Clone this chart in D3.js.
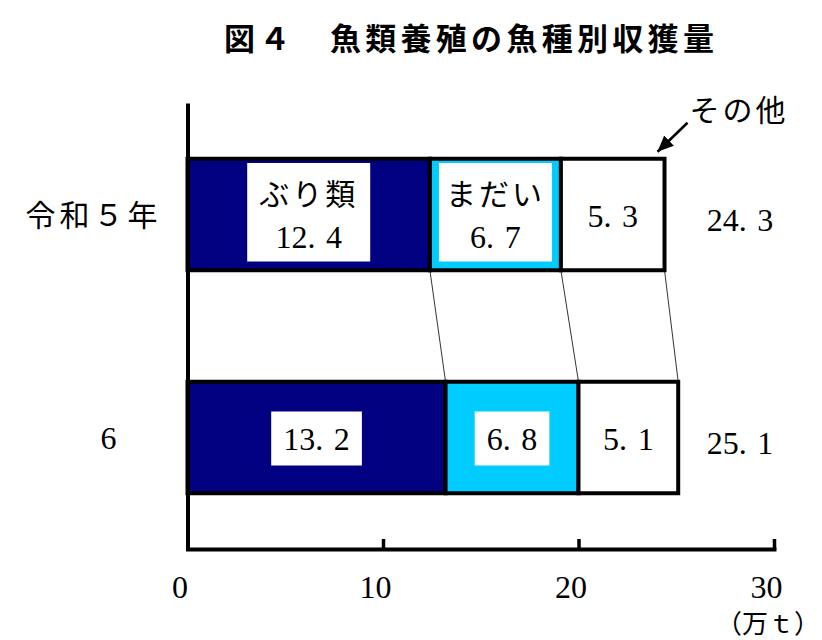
<!DOCTYPE html>
<html>
<head>
<meta charset="utf-8">
<script src="https://cdn.jsdelivr.net/npm/d3@7"></script>
<style>
  body { margin: 0; background: #fff; }
  svg { display: block; }
</style>
</head>
<body>
<div id="chart"></div>
<script>
var title = "図４　魚類養殖の魚種別収獲量";
var categories = ["令和５年", "6"];
var species = ["ぶり類", "まだい", "その他"];
var buri = [12.4, 13.2];
var madai = [6.7, 6.8];
var other = [5.3, 5.1];
var totals = [24.3, 25.1];
var xTicks = [0, 10, 20, 30];
var unitLabel = "（万ｔ）";
var colors = ["#000080", "#00ccff", "#ffffff"];

var serif = "'Liberation Serif', 'Noto Sans CJK JP', serif";
var jp = "'Noto Sans CJK JP', sans-serif";

// "12.4" is printed with a gap after the point in the original
var fmt = function(v){ return v.toFixed(1).replace(".", ".\u2004"); };

var rows = categories.map(function(c, i){
  return {cat: c, "ぶり類": buri[i], "まだい": madai[i], "その他": other[i]};
});
var stack = d3.stack().keys(species)(rows);

var svg = d3.select("#chart").append("svg")
  .attr("width", 822)
  .attr("height", 640);

var x = d3.scaleLinear().domain([0, 30]).range([187.5, 774]);
var y = d3.scaleBand().domain(categories).range([103, 549])
  .paddingInner(0.5).paddingOuter(0.25);
var bw = y.bandwidth();

// title
svg.append("text")
  .attr("x", 224).attr("y", 50)
  .attr("font-family", jp).attr("font-weight", "bold")
  .attr("font-size", 31).attr("letter-spacing", 4.3)
  .text(title);

// bars
var layers = svg.selectAll("g.layer").data(stack).enter().append("g")
  .attr("class", "layer")
  .attr("fill", function(d, i){ return colors[i]; });

layers.selectAll("rect").data(function(d){ return d; }).enter().append("rect")
  .attr("x", function(d){ return x(d[0]); })
  .attr("y", function(d){ return y(d.data.cat); })
  .attr("width", function(d){ return x(d[1]) - x(d[0]); })
  .attr("height", bw)
  .attr("stroke", "#000")
  .attr("stroke-width", 4);

// thin lines joining the two bars
species.forEach(function(s, k){
  var a = stack[k][0], b = stack[k][1];
  svg.append("line")
    .attr("x1", x(a[1])).attr("y1", y(a.data.cat) + bw)
    .attr("x2", x(b[1])).attr("y2", y(b.data.cat))
    .attr("stroke", "#000").attr("stroke-width", 0.8);
});

// labels in segments
stack.forEach(function(layer, k){
  layer.forEach(function(d, i){
    var cx = (x(d[0]) + x(d[1])) / 2;
    var cy = y(d.data.cat) + bw / 2;
    var g = svg.append("g").attr("transform", "translate(" + cx + "," + cy + ")");
    var box = g.append("rect").attr("fill", "#fff");
    var showName = (i == 0 && k < 2);
    if (showName) {
      g.append("text").attr("y", -9.5)
        .attr("text-anchor", "middle")
        .attr("font-family", jp).attr("font-size", 30)
        .attr("letter-spacing", 3)
        .text(layer.key);
      g.append("text").attr("y", 33)
        .attr("text-anchor", "middle")
        .attr("font-family", serif).attr("font-size", 32)
        .text(fmt(d[1] - d[0]));
    } else {
      g.append("text").attr("y", 12)
        .attr("text-anchor", "middle")
        .attr("font-family", serif).attr("font-size", 32)
        .text(fmt(d[1] - d[0]));
    }
    var bb = g.node().getBBox();
    var padX = 12, padY = showName ? 7 : 9;
    var w = Math.min(bb.width + padX * 2, x(d[1]) - x(d[0]) - 18);
    box.attr("x", -w / 2).attr("width", w)
      .attr("y", bb.y - padY).attr("height", bb.height + padY * 2);
  });
});

// totals
svg.selectAll("text.total").data(rows).enter().append("text")
  .attr("class", "total")
  .attr("x", 740)
  .attr("y", function(d){ return y(d.cat) + bw / 2 + 16; })
  .attr("text-anchor", "middle")
  .attr("font-family", serif).attr("font-size", 32)
  .text(function(d, i){ return fmt(totals[i]); });

// その他 pointer
var tipX = x(d3.sum([buri[0], madai[0], other[0]])) - 7;
var tipY = y(categories[0]) - 7;
svg.append("defs").append("marker")
  .attr("id", "head")
  .attr("markerUnits", "userSpaceOnUse")
  .attr("markerWidth", 18).attr("markerHeight", 14)
  .attr("refX", 16).attr("refY", 7)
  .attr("orient", "auto")
  .append("path").attr("d", "M0,0 L16,7 L0,14 Z").attr("fill", "#000");
svg.append("line")
  .attr("x1", tipX + 30).attr("y1", tipY - 29)
  .attr("x2", tipX).attr("y2", tipY)
  .attr("stroke", "#000").attr("stroke-width", 2.5)
  .attr("marker-end", "url(#head)");
svg.append("text")
  .attr("x", tipX + 32).attr("y", 121)
  .attr("font-family", jp).attr("font-size", 30)
  .attr("letter-spacing", 3)
  .text(species[2]);

// x axis
var xAxis = svg.append("g")
  .attr("transform", "translate(0," + y.range()[1] + ")")
  .call(d3.axisBottom(x).tickValues(xTicks).tickSize(-10).tickSizeOuter(0));
xAxis.select(".domain").attr("stroke", "#000").attr("stroke-width", 4)
  .attr("stroke-linecap", "square");
xAxis.selectAll(".tick line").attr("stroke", "#000").attr("stroke-width", 3.5);
xAxis.selectAll(".tick text")
  .attr("y", 49).attr("dy", 0).attr("dx", -8)
  .attr("font-family", serif).attr("font-size", 32).attr("fill", "#000");

svg.append("text")
  .attr("x", x(30) - 6).attr("y", 633)
  .attr("text-anchor", "middle")
  .attr("font-family", jp).attr("font-size", 26)
  .text(unitLabel);

// y axis
var yAxis = svg.append("g")
  .attr("transform", "translate(" + x(0) + ",0)")
  .call(d3.axisLeft(y).tickSize(0).tickSizeOuter(0));
yAxis.select(".domain").attr("stroke", "#000").attr("stroke-width", 4);
yAxis.selectAll(".tick text")
  .attr("dy", 0).attr("y", function(d){ return d.length > 1 ? 11 : 11; })
  .attr("x", function(d){ return d.length > 1 ? -26 : -71; })
  .attr("font-family", function(d){ return d.length > 1 ? jp : serif; })
  .attr("font-size", function(d){ return d.length > 1 ? 30 : 32; })
  .attr("letter-spacing", function(d){ return d.length > 1 ? 4 : 0; })
  .attr("fill", "#000");
</script>
</body>
</html>
